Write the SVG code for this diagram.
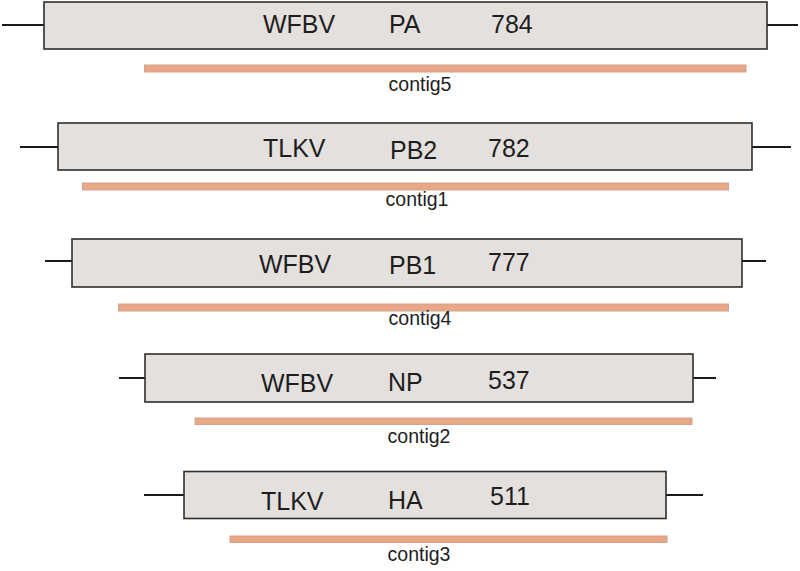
<svg xmlns="http://www.w3.org/2000/svg" width="800" height="571" viewBox="0 0 800 571">
<style>
.box{fill:#e4e0dd;stroke:#2e2e2e;stroke-width:1.6}
.stub{stroke:#1a1a1a;stroke-width:2}
.bar{fill:#e8a886;stroke:#d2a48e;stroke-width:1}
.lbl{font-family:"Liberation Sans",Arial,sans-serif;font-size:25px;fill:#1e1e1e}
.ctg{font-family:"Liberation Sans",Arial,sans-serif;font-size:19.5px;fill:#1e1e1e;text-anchor:middle}
</style>
<rect width="800" height="571" fill="#ffffff"/>
<g id="connectors">
<line class="stub" x1="2" y1="25" x2="44" y2="25"/><line class="stub" x1="767" y1="25" x2="798" y2="25"/>
<line class="stub" x1="20" y1="147" x2="58" y2="147"/><line class="stub" x1="752" y1="147" x2="791" y2="147"/>
<line class="stub" x1="45" y1="261" x2="72" y2="261"/><line class="stub" x1="742" y1="261" x2="766" y2="261"/>
<line class="stub" x1="119" y1="378" x2="145" y2="378"/><line class="stub" x1="693" y1="378" x2="716" y2="378"/>
<line class="stub" x1="144" y1="495" x2="184" y2="495"/><line class="stub" x1="666" y1="495" x2="703" y2="495"/>
</g>
<g id="seg-PA">
<rect class="box" x="44" y="2" width="723" height="47"/>
<text class="lbl" x="263" y="33">WFBV</text><text class="lbl" x="389" y="33">PA</text><text class="lbl" x="491" y="33">784</text>
<rect class="bar" x="144.5" y="65" width="601.5" height="7"/>
<text class="ctg" x="420" y="91">contig5</text>
</g>
<g id="seg-PB2">
<rect class="box" x="58" y="123" width="694" height="47"/>
<text class="lbl" x="263" y="157">TLKV</text><text class="lbl" x="390" y="159">PB2</text><text class="lbl" x="488" y="156.5">782</text>
<rect class="bar" x="82.5" y="183" width="646" height="7"/>
<text class="ctg" x="417" y="206">contig1</text>
</g>
<g id="seg-PB1">
<rect class="box" x="72" y="239" width="670" height="48"/>
<text class="lbl" x="259" y="273">WFBV</text><text class="lbl" x="389" y="274">PB1</text><text class="lbl" x="488" y="271">777</text>
<rect class="bar" x="118.5" y="304" width="610" height="7"/>
<text class="ctg" x="420" y="325">contig4</text>
</g>
<g id="seg-NP">
<rect class="box" x="145" y="354" width="548" height="48"/>
<text class="lbl" x="261" y="392">WFBV</text><text class="lbl" x="388" y="391">NP</text><text class="lbl" x="488" y="389">537</text>
<rect class="bar" x="195" y="418" width="497" height="6.5"/>
<text class="ctg" x="419" y="443">contig2</text>
</g>
<g id="seg-HA">
<rect class="box" x="184" y="471.5" width="482" height="47"/>
<text class="lbl" x="261" y="510">TLKV</text><text class="lbl" x="388" y="509">HA</text><text class="lbl" x="490" y="505">511</text>
<rect class="bar" x="230" y="536" width="437" height="6.5"/>
<text class="ctg" x="419" y="561">contig3</text>
</g>
</svg>
